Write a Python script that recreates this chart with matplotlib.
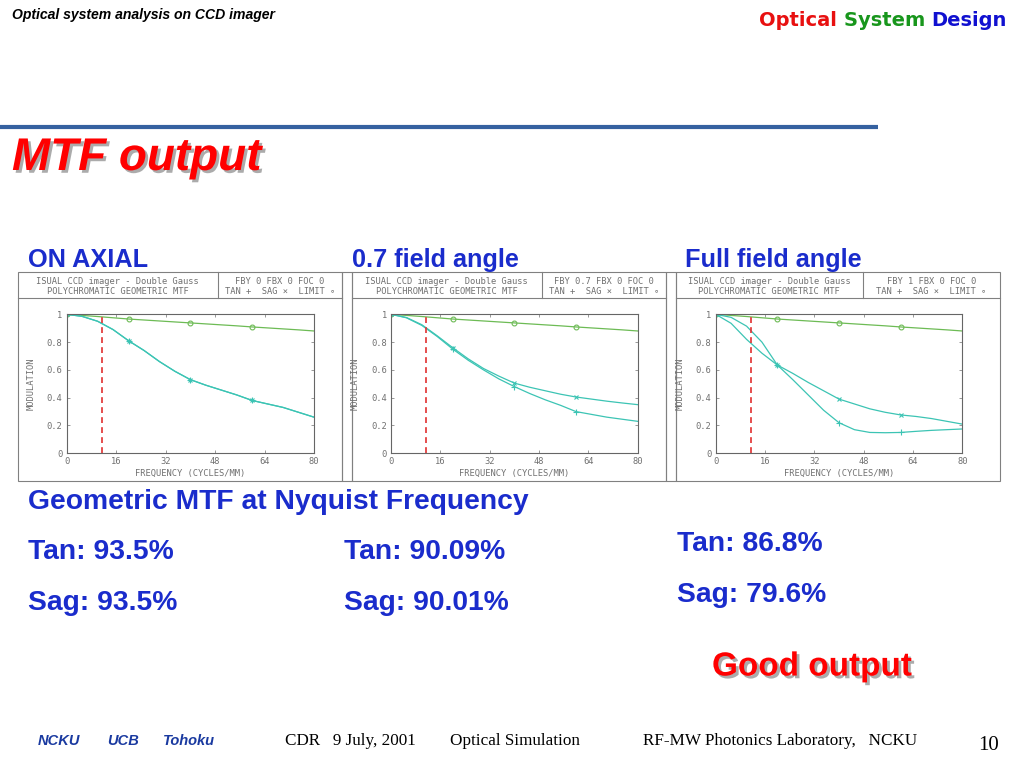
import matplotlib; matplotlib.use("Agg")
import matplotlib.pyplot as plt
import matplotlib.patheffects as pe
from matplotlib.patches import Rectangle

# ---- data --------------------------------------------------------------
FREQ = [0, 5, 10, 15, 20, 25, 30, 35, 40, 45, 50, 55, 60, 65, 70, 75, 80]
LIMIT = [1.0, 0.992, 0.984, 0.975, 0.966, 0.959, 0.952, 0.945, 0.938,
         0.931, 0.924, 0.917, 0.909, 0.902, 0.895, 0.888, 0.88]
# on axial: tan and sag coincide
TAN_0 = [1.0, 0.985, 0.95, 0.89, 0.81, 0.74, 0.66, 0.59, 0.53,
         0.49, 0.455, 0.42, 0.38, 0.355, 0.33, 0.295, 0.26]
SAG_0 = TAN_0
TAN_07 = [1.0, 0.975, 0.92, 0.84, 0.75, 0.67, 0.60, 0.535, 0.48,
          0.43, 0.385, 0.345, 0.30, 0.28, 0.26, 0.245, 0.23]
SAG_07 = [1.0, 0.977, 0.925, 0.845, 0.76, 0.68, 0.61, 0.555, 0.505,
          0.475, 0.45, 0.425, 0.405, 0.39, 0.375, 0.362, 0.35]
TAN_1 = [1.0, 0.978, 0.915, 0.80, 0.635, 0.53, 0.42, 0.31, 0.22,
         0.17, 0.15, 0.148, 0.15, 0.158, 0.165, 0.17, 0.175]
SAG_1 = [1.0, 0.935, 0.82, 0.72, 0.635, 0.575, 0.51, 0.45, 0.39,
         0.355, 0.32, 0.295, 0.276, 0.265, 0.25, 0.23, 0.21]
NYQUIST = 11.5

FIELD_TITLES = ["ON AXIAL", "0.7 field angle", "Full field angle"]
FIELD_HDR = ["FBY 0 FBX 0 FOC 0", "FBY 0.7 FBX 0 FOC 0", "FBY 1 FBX 0 FOC 0"]
NYQ_TAN = ["93.5%", "90.09%", "86.8%"]
NYQ_SAG = ["93.5%", "90.01%", "79.6%"]
XTICKS = [0, 16, 32, 48, 64, 80]
YTICKS = [0, 0.2, 0.4, 0.6, 0.8, 1]
YTICKLABELS = ["0", "0.2", "0.4", "0.6", "0.8", "1"]

CURVES = [(TAN_0, SAG_0), (TAN_07, SAG_07), (TAN_1, SAG_1)]

W, H = 1024, 768
BLUE = "#1a2ccc"
CYAN = "#3cc4b4"
LGREEN = "#6dbb55"
GRAY = "#707070"
MONO = "DejaVu Sans Mono"
SANS = "Liberation Sans"
SERIF = "Liberation Serif"

fig = plt.figure(figsize=(W / 100, H / 100), dpi=100)
fig.patch.set_facecolor("white")

# overlay in pixel coords for boxes and slide text
bg = fig.add_axes([0, 0, 1, 1], zorder=0)
bg.set_xlim(0, W); bg.set_ylim(H, 0); bg.axis("off")

def txt(x, y, s, **kw):
    kw.setdefault("va", "center")
    return bg.text(x, y, s, **kw)

# slide header
txt(12, 15, "Optical system analysis on CCD imager", family=SANS,
    weight="bold", style="italic", fontsize=10.1, color="black")
t3 = txt(1007, 20, "Design", ha="right", family="DejaVu Sans", weight="bold",
         fontsize=14, color="#1010d0")
t2 = bg.annotate("System ", xy=(0, 0.5), xycoords=t3, ha="right", va="center",
                 family="DejaVu Sans", weight="bold", fontsize=14, color="#18961c")
bg.annotate("Optical ", xy=(0, 0.5), xycoords=t2, ha="right", va="center",
            family="DejaVu Sans", weight="bold", fontsize=14, color="#e81010")
bg.plot([0, 878], [127, 127], color="#3561a0", lw=3.0, solid_capstyle="butt")

shadow = [pe.withSimplePatchShadow(offset=(2, -2), shadow_rgbFace="#888888", alpha=0.7)]
txt(12, 158, "MTF output", family=SANS, weight="bold", style="italic",
    fontsize=33, color="#ff0000", path_effects=shadow)

# panel frames
panels = [(17.5, 218, 342), (352, 541.7, 666), (676, 862.7, 1000)]
axes_x = [(66.7, 314), (391, 637.7), (715.7, 962.3)]
top, hdr, bot = 272, 298, 481
for x0, xm, x1 in panels:
    bg.add_patch(Rectangle((x0, top), x1 - x0, bot - top, fill=False,
                           ec="#808080", lw=0.8))
    bg.plot([x0, x1], [hdr, hdr], color="#808080", lw=0.8)
    bg.plot([xm, xm], [top, hdr], color="#808080", lw=0.8)
for x0, x1 in [(342, 352), (666, 676)]:
    bg.add_patch(Rectangle((x0, top), x1 - x0, bot - top, fill=False,
                           ec="#808080", lw=0.8))

ay0, ay1 = 314.3, 453.3
for i, ((x0, xm, x1), (ax0, ax1), (tan, sag)) in enumerate(zip(panels, axes_x, CURVES)):
    cl = (x0 + xm) / 2
    cr = (xm + x1) / 2
    txt(cl, 281, "ISUAL CCD imager - Double Gauss", ha="center", family=MONO,
        fontsize=6.3, color=GRAY)
    txt(cl, 291, "POLYCHROMATIC GEOMETRIC MTF", ha="center", family=MONO,
        fontsize=6.3, color=GRAY)
    txt(cr, 281, FIELD_HDR[i], ha="center", family=MONO, fontsize=6.3, color=GRAY)
    txt(cr, 291, "TAN +  SAG \u00d7  LIMIT \u2218", ha="center", family=MONO,
        fontsize=6.3, color=GRAY)
    txt(ax0 - 36, (ay0 + ay1) / 2, "MODULATION", ha="center", rotation=90,
        family=MONO, fontsize=6.3, color=GRAY)
    txt((ax0 + ax1) / 2, 473, "FREQUENCY (CYCLES/MM)", ha="center",
        family=MONO, fontsize=6.3, color=GRAY)

    ax = fig.add_axes([ax0 / W, 1 - ay1 / H, (ax1 - ax0) / W, (ay1 - ay0) / H],
                      zorder=1)
    ax.set_facecolor("none")
    ax.plot(FREQ, LIMIT, color=LGREEN, lw=0.9, marker="o", mfc="none",
            ms=3.5, mew=0.8, markevery=[0, 4, 8, 12])
    ax.plot(FREQ, sag, color=CYAN, lw=0.9, marker="x", ms=3.5, mew=0.8,
            markevery=[0, 4, 8, 12])
    ax.plot(FREQ, tan, color=CYAN, lw=0.9, marker="+", ms=4, mew=0.8,
            markevery=[0, 4, 8, 12])
    ax.plot([NYQUIST, NYQUIST], [0, 0.98], color="#e03030", lw=1.2,
            dashes=(3.5, 2.5))
    ax.set_xlim(0, 80); ax.set_ylim(0, 1)
    ax.set_xticks(XTICKS); ax.set_yticks(YTICKS)
    ax.set_yticklabels(YTICKLABELS)
    ax.tick_params(direction="in", length=2.5, width=0.6, colors="#888888",
                   labelcolor=GRAY, labelsize=6.3, pad=3,
                   top=True, right=True)
    for lab in ax.get_xticklabels() + ax.get_yticklabels():
        lab.set_family(MONO)
    for sp in ax.spines.values():
        sp.set_color("#666666"); sp.set_linewidth(0.8)

# field titles and results
title_x = [28, 352, 685]
for x, s in zip(title_x, FIELD_TITLES):
    txt(x, 260, s, family=SANS, weight="bold", fontsize=18.2, color=BLUE)
txt(28, 502, "Geometric MTF at Nyquist Frequency", family=SANS, weight="bold",
    fontsize=20.3, color=BLUE)
res_pos = [(28, 552, 603), (344, 552, 603), (677, 544, 595)]
for (x, yt, ys), t, s in zip(res_pos, NYQ_TAN, NYQ_SAG):
    txt(x, yt, "Tan: " + t, family=SANS, weight="bold", fontsize=20.3, color=BLUE)
    txt(x, ys, "Sag: " + s, family=SANS, weight="bold", fontsize=20.3, color=BLUE)

txt(712, 667, "Good output", family=SANS, weight="bold", fontsize=24,
    color="#ff0000", path_effects=shadow)

# footer
for x, s in [(38, "NCKU"), (107, "UCB"), (163, "Tohoku")]:
    txt(x, 741, s, family=SANS, weight="bold", style="italic", fontsize=10.5,
        color="#1a3aa0")
txt(285, 741, "CDR   9 July, 2001", family=SERIF, fontsize=12.3, color="black")
txt(450, 741, "Optical Simulation", family=SERIF, fontsize=12.3, color="black")
txt(643, 741, "RF-MW Photonics Laboratory,   NCKU", family=SERIF, fontsize=12.3,
    color="black")
txt(978, 745, "10", family=SERIF, fontsize=15, color="black")

fig.savefig("out.png", dpi=100)
